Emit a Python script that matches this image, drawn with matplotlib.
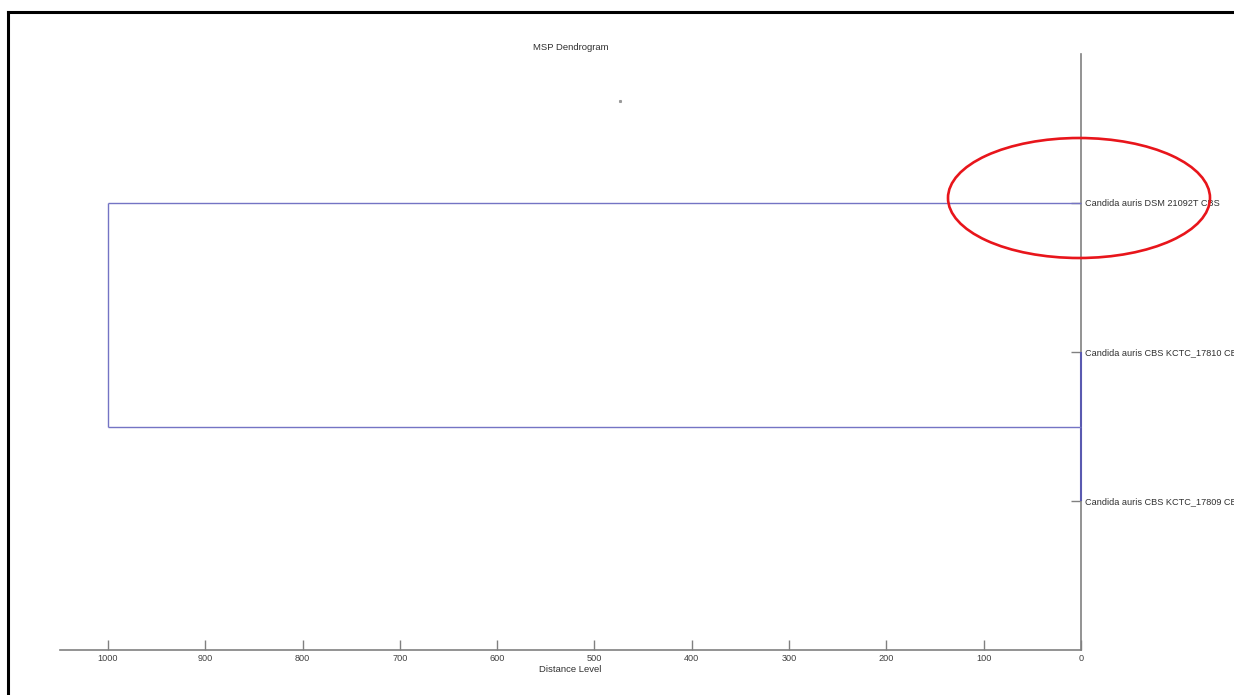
import matplotlib
matplotlib.use("Agg")
import matplotlib.pyplot as plt
import matplotlib.patches as patches
from matplotlib.lines import Line2D

plt.rcParams["font.family"] = ["Liberation Sans", "DejaVu Sans"]

# leaves (top to bottom) and their row positions
leaf_labels = [
    "Candida auris DSM 21092T CBS",
    "Candida auris CBS KCTC_17810 CBS",
    "Candida auris CBS KCTC_17809 CBS",
]
leaf_pos = [1, 2, 3]

# merges: (upper row, lower row, distance level)
merge_upper = [2, 1]
merge_lower = [3, 2.5]
merge_dist = [0, 1000]
# distance at which each merged item starts (0 for leaves)
child_dist_upper = [0, 0]
child_dist_lower = [0, 0]

x_ticks = [1000, 900, 800, 700, 600, 500, 400, 300, 200, 100, 0]

W, H = 1234, 695
fig = plt.figure(figsize=(W / 100, H / 100), dpi=100)

# axes spans px 60..1081 horizontally and 54..650 vertically
ax = fig.add_axes([60 / W, 1 - 650 / H, (1081 - 60) / W, (650 - 54) / H])
ax.set_xlim(1049.3, 0)
ax.set_ylim(4, 0)

line_col = "#7474c4"
for up, lo, d, cu, cl in zip(merge_upper, merge_lower, merge_dist,
                             child_dist_upper, child_dist_lower):
    ax.plot([cu, d], [up, up], color=line_col, lw=1.0, solid_capstyle="butt",
            clip_on=False, zorder=3)
    ax.plot([cl, d], [lo, lo], color=line_col, lw=1.0, solid_capstyle="butt",
            clip_on=False, zorder=3)
    # the vertical sitting on the axis looks darker in the original
    vcol = "#5a5ab0" if d == 0 else line_col
    vlw = 1.5 if d == 0 else 1.0
    ax.plot([d, d], [up, lo], color=vcol, lw=vlw, solid_capstyle="butt",
            clip_on=False, zorder=3)

axis_col = "#808080"
for side in ["top", "left"]:
    ax.spines[side].set_visible(False)
ax.spines["bottom"].set_color(axis_col)
ax.spines["right"].set_color(axis_col)
ax.spines["bottom"].set_linewidth(1.2)
ax.spines["right"].set_linewidth(1.2)

ax.set_xticks(x_ticks)
ax.set_xticklabels([str(t) for t in x_ticks])
ax.tick_params(axis="x", direction="in", length=7, width=1, color=axis_col,
               labelsize=6.6, labelcolor="#404040", pad=3)

ax.yaxis.tick_right()
ax.set_yticks(leaf_pos)
ax.set_yticklabels(leaf_labels)
ax.tick_params(axis="y", direction="in", length=7, width=1, color=axis_col,
               labelsize=6.6, labelcolor="#303030", pad=3)

ax.set_xlabel("Distance Level", fontsize=6.8, color="#303030", labelpad=1)
ax.set_title("MSP Dendrogram", fontsize=6.8, color="#303030", pad=3)

# frame lines at top and left of the screenshot
fig.add_artist(Line2D([8 / W, 8 / W], [0, 1 - 12 / H], transform=fig.transFigure,
                      color="black", lw=2.2))
fig.add_artist(Line2D([8 / W, 1], [1 - 12 / H, 1 - 12 / H], transform=fig.transFigure,
                      color="black", lw=2.2))

# small speck near the title
fig.add_artist(Line2D([620 / W], [1 - 101 / H], transform=fig.transFigure,
                      marker="s", markersize=1.2, color="#999999", lw=0))

# red highlight ellipse
ell = patches.Ellipse((1079 / W, 1 - 198 / H), 262 / W, 120 / H,
                      transform=fig.transFigure, fill=False,
                      edgecolor="#e8151b", lw=1.9)
fig.add_artist(ell)

plt.savefig("out.png", dpi=100)
plt.close()
